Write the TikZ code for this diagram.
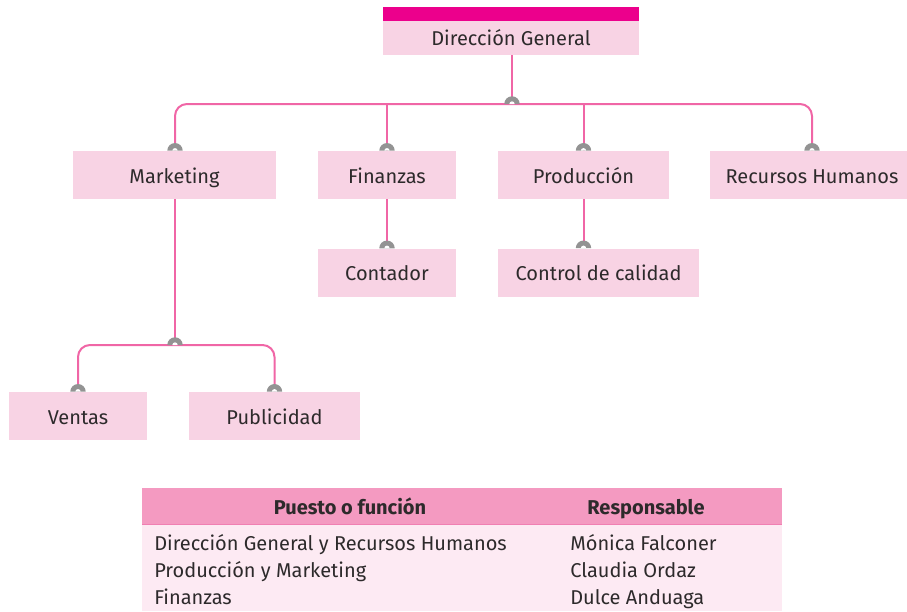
\documentclass[tikz,border=0pt]{standalone}
\usepackage{fontspec}
\setmainfont{Fira Sans}
\usepackage{tikz}
\usetikzlibrary{positioning}

\definecolor{boxpink}{HTML}{F8D3E4}
\definecolor{barmag}{HTML}{EC008C}
\definecolor{linkpink}{HTML}{F066A6}
\definecolor{bumpgray}{HTML}{939393}
\definecolor{headpink}{HTML}{F49AC1}
\definecolor{headline}{HTML}{F07FB2}
\definecolor{bodypink}{HTML}{FDEAF3}
\definecolor{textdark}{HTML}{2D2A2B}

\begin{document}
\begin{tikzpicture}[x=0.75pt,y=-0.75pt,
    unit/.style={fill=boxpink, text=textdark, inner sep=0pt,
      text height=13pt, text depth=1pt,
      minimum height=36pt, font=\fontsize{15}{18}\selectfont},
    link/.style={draw=linkpink, line width=1.5pt},
    cell/.style={anchor=base west, inner sep=0pt, text=textdark,
      font=\fontsize{15}{18}\selectfont},
    headcell/.style={anchor=base, inner sep=0pt, text=textdark,
      font=\fontsize{15}{18}\selectfont\bfseries}]
    \useasboundingbox (0,0) rectangle (907,611);

    % top
    \node[unit, minimum width=192pt, minimum height=25.5pt, text height=11.5pt] (dg) at (511,38) {Dirección General};
    \fill[barmag] (dg.north west) rectangle ([yshift=10.5pt]dg.north east);

    % first level
    \node[unit, minimum width=152.25pt] (mk) at (174.5,175) {Marketing};
    \node[unit, minimum width=103.5pt] (fi) at (387,175) {Finanzas};
    \node[unit, minimum width=128.25pt] (pr) at (583.5,175) {Producción};
    \node[unit, minimum width=153pt] (rh) at (812,175) {Recursos Humanos};

    % second level
    \node[unit, minimum width=103.5pt, below=36.75pt of fi] (co) {Contador};
    \node[unit, minimum width=150.75pt] (cc) at (598.5,272.5) {Control de calidad};
    \node[unit, minimum width=103.5pt] (ve) at (78,416) {Ventas};
    \node[unit, minimum width=128.25pt] (pu) at (274.5,416) {Publicidad};

    % buses
    \coordinate (bus) at (512,104);
    \coordinate (bus2) at (175,345);
    \draw[link] (dg.south -| bus) -- (bus);
    \draw[link, rounded corners=9pt] (mk.north -| bus2) |- (bus) -| (rh.north);
    \draw[link] (fi.north) -- (fi.north |- bus);
    \draw[link] (pr.north) -- (pr.north |- bus);
    \draw[link] (fi.south) -- (co.north);
    \draw[link] (pr.south) -- (pr.south |- cc.north);
    \draw[link] (mk.south -| bus2) -- (bus2);
    \draw[link, rounded corners=9pt] (ve.north) |- (bus2) -| (pu.north);

    % bumps
    \foreach \p in {bus, mk.north -| bus2, fi.north, pr.north, rh.north,
        co.north, pr.south |- cc.north, bus2, ve.north, pu.north} {
      \fill[bumpgray] (\p) ++(-5.8pt,0) arc[start angle=180, end angle=0, radius=5.8pt] -- cycle;
      \fill[white] (\p) ++(-2pt,0) arc[start angle=180, end angle=0, radius=2pt] -- cycle;
    }

    % table
    \fill[bodypink] (142,524) rectangle (782,611);
    \fill[headpink] (142,488) rectangle (782,524);
    \draw[headline, line width=0.75pt] (142,524) -- (782,524);
    \node[headcell] (h1) at (350,514) {Puesto o función};
    \node[headcell] (h2) at (646,514) {Responsable};
    \node[cell] (a1) at (154,550) {Dirección General y Recursos Humanos};
    \node[cell] (a2) at (154,577) {Producción y Marketing};
    \node[cell] (a3) at (154,604) {Finanzas};
    \node[cell] (b1) at (570,550) {Mónica Falconer};
    \node[cell] (b2) at (570,577) {Claudia Ordaz};
    \node[cell] (b3) at (570,604) {Dulce Anduaga};
\end{tikzpicture}
\end{document}
